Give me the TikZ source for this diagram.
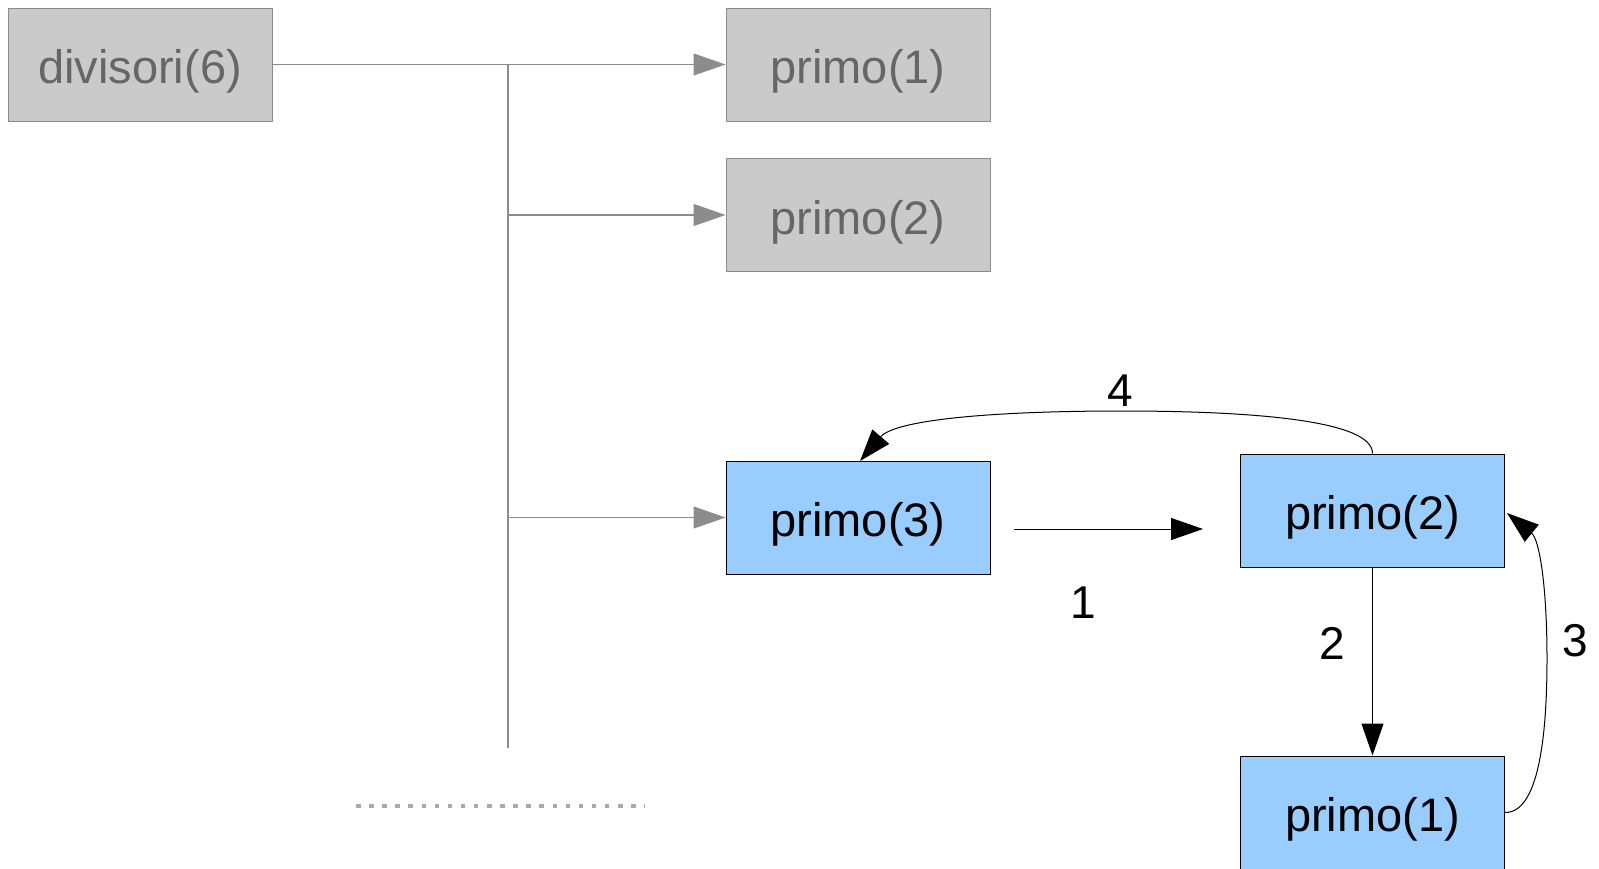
\documentclass[tikz,border=0pt]{standalone}
\usepackage{fontspec}
\setmainfont{Liberation Sans}
\usetikzlibrary{arrows.meta}
\definecolor{gfill}{HTML}{CACACA}
\definecolor{gline}{HTML}{8C8C8C}
\definecolor{gtext}{HTML}{666666}
\definecolor{bfill}{HTML}{99CCFF}
\definecolor{dotc}{HTML}{AAAAAA}
\tikzset{
  box/.style={rectangle, minimum width=264pt, minimum height=113pt, inner sep=0pt,
    text height=48pt, text depth=10pt,
    font=\fontsize{47}{56}\selectfont},
  graybox/.style={box, fill=gfill, draw=gline, line width=1pt, text=gtext},
  bluebox/.style={box, fill=bfill, draw=black, line width=1pt, text=black},
  gconn/.style={draw=gline, line width=1.3pt},
  garrow/.style={gconn, -{Triangle[length=32pt,width=22pt]}},
  barrow/.style={draw=black, line width=1pt, -{Triangle[length=32pt,width=22pt]}},
  lbl/.style={font=\fontsize{46}{55}\selectfont, text=black, inner sep=0pt},
}
\begin{document}
\begin{tikzpicture}[x=1pt,y=-1pt]
\useasboundingbox (0,0) rectangle (1599,868);
\node[graybox] (div) at (140,64.5) {divisori(6)};
\node[graybox] (g1) at (858,64.5) {primo(1)};
\node[graybox] (g2) at (858,215) {primo(2)};
\node[bluebox] (p3) at (858,517.5) {primo(3)};
\node[bluebox] (p2) at (1372.5,510.5) {primo(2)};
\node[bluebox] (p1) at (1372.5,812.5) {primo(1)};
% trunk
\coordinate (ttop) at (508,64.5);
\coordinate (tbot) at (508,748);
\draw[gconn] (div.east) -- (ttop) -- (tbot);
\draw[garrow] (ttop) -- (g1.west);
\draw[garrow] (g2.west -| ttop) -- (g2.west);
\draw[garrow] (p3.west -| ttop) -- (p3.west);
% dotted line
\coordinate (ds) at (356,806);
\coordinate (de) at (645,806);
\draw[dotc, line width=4.5pt, dash pattern=on 4.5pt off 8.6pt] (ds) -- (de);
% arrow 1
\coordinate (a1s) at (1014,529);
\coordinate (a1e) at (1203,529);
\draw[barrow] (a1s) -- (a1e);
\node[lbl] (l1) at (1083,603) {1};
% arrow 2
\draw[barrow] (p2.south) -- (p1.north);
\node[lbl] (l2) at (1332,643) {2};
% arrow 3
\coordinate (a3e) at (1507,513);
\draw[barrow] (p1.east) .. controls (1542,813) and (1547,720) .. (1547,658)
   .. controls (1547,590) and (1540,540) .. (a3e);
\node[lbl] (l3) at (1575,641) {3};
% arrow 4
\coordinate (a4e) at (860,461);
\draw[barrow] (p2.north) .. controls (1373,420) and (1250,411) .. (1122,411)
   .. controls (990,411) and (895,420) .. (a4e);
\node[lbl] (l4) at (1120,391) {4};
\end{tikzpicture}
\end{document}
